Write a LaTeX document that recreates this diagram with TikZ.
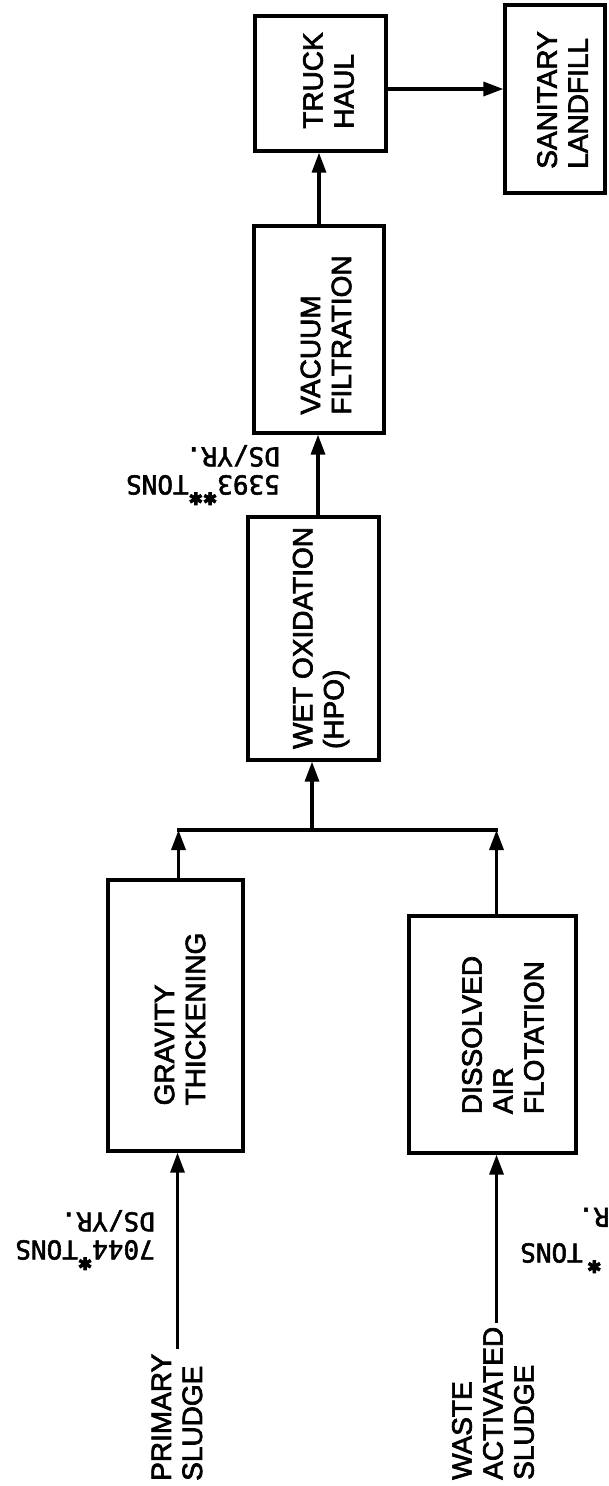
\documentclass[tikz,border=0pt]{standalone}
\usepackage{fontspec}
\setmainfont{Liberation Sans}[FakeBold=2.5]
\newfontfamily\labfont{DejaVu Sans Mono}[FakeBold=2]
\newfontfamily\starfont{DejaVu Sans}[FakeBold=5]
\usetikzlibrary{arrows.meta}
\newcommand\starmk{\smash{\raisebox{17pt}{\starfont\fontsize{17}{17}\selectfont ✱}}}
\begin{document}
\begin{tikzpicture}[x=1pt, y=-1pt,
  box/.style={draw, line width=3.3pt, inner sep=0pt},
  txt/.style={rotate=90, align=left, inner sep=0pt, font=\fontsize{28}{31}\selectfont},
  lab/.style={rotate=180, align=left, inner sep=0pt, font=\labfont\fontsize{26}{28}\selectfont},
  ln/.style={line width=3.3pt},
  arr/.style={ln, -{Triangle[length=20pt,width=14pt]}}]
\fill[white] (0,0) rectangle (608,1486);
\useasboundingbox (0,0) rectangle (608,1486);

% boxes
\node[box, minimum width=131pt, minimum height=135pt] (truck) at (320.5,83.5) {};
\node[box, minimum width=100pt, minimum height=188pt] (landfill) at (555,99) {};
\node[box, minimum width=130pt, minimum height=207pt] (vacuum) at (319,329.5) {};
\node[box, minimum width=131pt, minimum height=243pt] (wetox) at (313.5,638.5) {};
\node[box, minimum width=135pt, minimum height=271pt] (gravity) at (175.5,1015.5) {};
\node[box, minimum width=167pt, minimum height=237pt] (daf) at (492.5,1034.5) {};

% box texts
\node[txt] (ttruck) at (328.5,80.5) {TRUCK\\HAUL};
\node[txt] (tland) at (562.5,100) {SANITARY\\LANDFILL};
\node[txt] (tvac) at (326,335) {VACUUM\\FILTRATION};
\node[txt] (twet) at (321,638) {WET OXIDATION\\(HPO)};
\node[txt] (tgrav) at (180,1019) {GRAVITY\\THICKENING};
\node[txt] (tdaf) at (503,1035) {DISSOLVED\\AIR\\FLOTATION};

% source texts
\node[txt, anchor=west] (primary) at (177,1481) {PRIMARY\\SLUDGE};
\node[txt, anchor=west] (was) at (493,1480) {WASTE\\ACTIVATED\\SLUDGE};

% quantity labels
\node[lab, anchor=north west] (l7044) at (155,1260) {7044\starmk TONS\\DS/YR.};
\node[lab, anchor=north west] (l5393) at (280,495) {5393\starmk\starmk TONS\\DS/YR.};
\node[lab, anchor=north east] (lwas) at (520,1263) {\starmk\,TONS};
\node[lab, anchor=north east] (lwasr) at (578,1227) {R.};

% helper points
\coordinate (j) at (312,830);
\coordinate (te) at ([yshift=-5.5pt]truck.east);
\coordinate (wt) at ([xshift=4.5pt]wetox.north);
\coordinate (gtop) at ([xshift=3pt]gravity.north);
\coordinate (gbot) at ([xshift=2pt]gravity.south);
\coordinate (dtop) at ([xshift=4pt]daf.north);
\coordinate (dbot) at ([xshift=4pt]daf.south);

% connectors
\draw[arr] (te) -- (te -| landfill.west);
\draw[arr] (vacuum.north) -- (vacuum.north |- truck.south);
\draw[arr] (wt) -- (wt |- vacuum.south);
\draw[arr] (j) -- (j |- wetox.south);
\draw[ln, line cap=rect] (gtop |- j) -- (dtop |- j);
\draw[arr] (gtop) -- (gtop |- j);
\draw[arr] (dtop) -- (dtop |- j);
\draw[arr, shorten <=5pt] (gbot |- primary.east) -- (gbot);
\draw[arr, shorten <=4pt] (dbot |- was.east) -- (dbot);
\end{tikzpicture}
\end{document}
